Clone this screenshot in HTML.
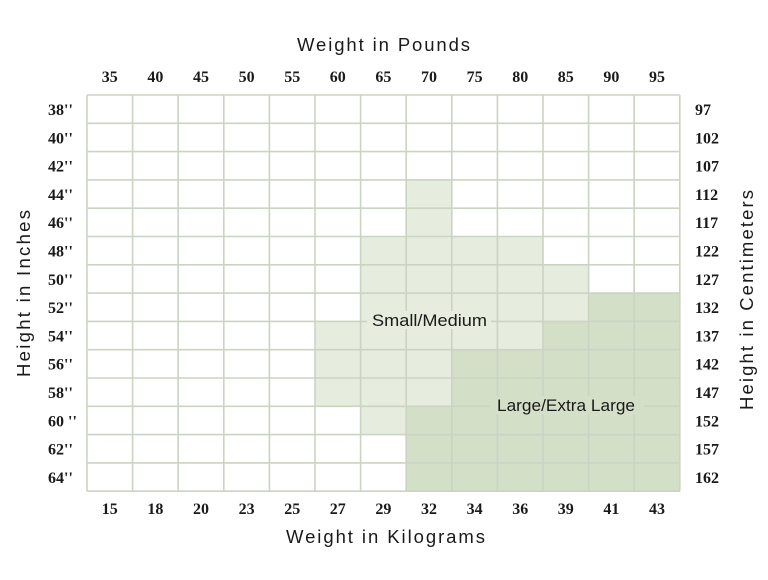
<!DOCTYPE html>
<html>
<head>
<meta charset="utf-8">
<style>
  html, body { margin:0; padding:0; background:#ffffff; }
  body { width:768px; height:580px; overflow:hidden; }
  svg { display:block; }
  .num { font-family:"Liberation Serif", serif; font-weight:bold; font-size:16px; fill:#1a1a1a; }
  .ttl { font-family:"Liberation Sans", sans-serif; font-size:18.5px; fill:#1a1a1a; }
  .lbl { font-family:"Liberation Sans", sans-serif; font-size:17px; fill:#1a1a1a; }
</style>
</head>
<body>
<svg width="768" height="580" viewBox="0 0 768 580" xmlns="http://www.w3.org/2000/svg">
  <rect x="0" y="0" width="768" height="580" fill="#ffffff"/>

  <!-- light fills (Small/Medium) -->
  <g fill="#e6ecde">
    <rect x="406.2" y="179.9" width="45.6" height="56.6"/>
    <rect x="360.6" y="236.5" width="182.4" height="84.9"/>
    <rect x="543" y="264.8" width="45.6" height="56.6"/>
    <rect x="315" y="321.4" width="228" height="28.3"/>
    <rect x="315" y="349.7" width="136.8" height="56.6"/>
    <rect x="360.6" y="406.3" width="45.6" height="28.3"/>
  </g>
  <!-- dark fills (Large/Extra Large) -->
  <g fill="#d4dfc8">
    <rect x="588.6" y="293.1" width="91.2" height="28.3"/>
    <rect x="543" y="321.4" width="136.8" height="28.3"/>
    <rect x="451.8" y="349.7" width="228" height="56.6"/>
    <rect x="406.2" y="406.3" width="273.6" height="84.9"/>
  </g>

  <!-- grid -->
  <g stroke="#cbd3c3" stroke-width="1.6" fill="none">
    <line x1="87" y1="95" x2="87" y2="491.2"/>
    <line x1="132.6" y1="95" x2="132.6" y2="491.2"/>
    <line x1="178.2" y1="95" x2="178.2" y2="491.2"/>
    <line x1="223.8" y1="95" x2="223.8" y2="491.2"/>
    <line x1="269.4" y1="95" x2="269.4" y2="491.2"/>
    <line x1="315" y1="95" x2="315" y2="491.2"/>
    <line x1="360.6" y1="95" x2="360.6" y2="491.2"/>
    <line x1="406.2" y1="95" x2="406.2" y2="491.2"/>
    <line x1="451.8" y1="95" x2="451.8" y2="491.2"/>
    <line x1="497.4" y1="95" x2="497.4" y2="491.2"/>
    <line x1="543" y1="95" x2="543" y2="491.2"/>
    <line x1="588.6" y1="95" x2="588.6" y2="491.2"/>
    <line x1="634.2" y1="95" x2="634.2" y2="491.2"/>
    <line x1="679.8" y1="95" x2="679.8" y2="491.2"/>

    <line x1="87" y1="95" x2="679.8" y2="95"/>
    <line x1="87" y1="123.3" x2="679.8" y2="123.3"/>
    <line x1="87" y1="151.6" x2="679.8" y2="151.6"/>
    <line x1="87" y1="179.9" x2="679.8" y2="179.9"/>
    <line x1="87" y1="208.2" x2="679.8" y2="208.2"/>
    <line x1="87" y1="236.5" x2="679.8" y2="236.5"/>
    <line x1="87" y1="264.8" x2="679.8" y2="264.8"/>
    <line x1="87" y1="293.1" x2="679.8" y2="293.1"/>
    <line x1="87" y1="321.4" x2="679.8" y2="321.4"/>
    <line x1="87" y1="349.7" x2="679.8" y2="349.7"/>
    <line x1="87" y1="378" x2="679.8" y2="378"/>
    <line x1="87" y1="406.3" x2="679.8" y2="406.3"/>
    <line x1="87" y1="434.6" x2="679.8" y2="434.6"/>
    <line x1="87" y1="462.9" x2="679.8" y2="462.9"/>
    <line x1="87" y1="491.2" x2="679.8" y2="491.2"/>
  </g>

  <!-- label backgrounds that hide grid lines -->
  <rect x="367" y="311" width="124" height="18" fill="#e6ecde"/>
  <rect x="490" y="396" width="154" height="18" fill="#d4dfc8"/>

  <!-- region labels -->
  <text class="lbl" x="372" y="326" textLength="115" lengthAdjust="spacingAndGlyphs">Small/Medium</text>
  <text class="lbl" x="497" y="411" textLength="138" lengthAdjust="spacingAndGlyphs">Large/Extra Large</text>

  <!-- axis titles -->
  <text class="ttl" x="297" y="51" textLength="173" lengthAdjust="spacing">Weight in Pounds</text>
  <text class="ttl" x="286" y="543" textLength="199" lengthAdjust="spacing">Weight in Kilograms</text>
  <text class="ttl" transform="translate(30,377) rotate(-90)" x="0" y="0" textLength="167" lengthAdjust="spacing">Height in Inches</text>
  <text class="ttl" transform="translate(753,410) rotate(-90)" x="0" y="0" textLength="220" lengthAdjust="spacing">Height in Centimeters</text>

  <!-- top numbers (pounds) -->
  <g class="num" text-anchor="middle">
    <text x="109.8" y="82">35</text>
    <text x="155.4" y="82">40</text>
    <text x="201" y="82">45</text>
    <text x="246.6" y="82">50</text>
    <text x="292.2" y="82">55</text>
    <text x="337.8" y="82">60</text>
    <text x="383.4" y="82">65</text>
    <text x="429" y="82">70</text>
    <text x="474.6" y="82">75</text>
    <text x="520.2" y="82">80</text>
    <text x="565.8" y="82">85</text>
    <text x="611.4" y="82">90</text>
    <text x="657" y="82">95</text>
  </g>

  <!-- bottom numbers (kilograms) -->
  <g class="num" text-anchor="middle">
    <text x="109.8" y="514">15</text>
    <text x="155.4" y="514">18</text>
    <text x="201" y="514">20</text>
    <text x="246.6" y="514">23</text>
    <text x="292.2" y="514">25</text>
    <text x="337.8" y="514">27</text>
    <text x="383.4" y="514">29</text>
    <text x="429" y="514">32</text>
    <text x="474.6" y="514">34</text>
    <text x="520.2" y="514">36</text>
    <text x="565.8" y="514">39</text>
    <text x="611.4" y="514">41</text>
    <text x="657" y="514">43</text>
  </g>

  <!-- left labels (inches) -->
  <g class="num">
    <text x="48" y="115">38''</text>
    <text x="48" y="143.3">40''</text>
    <text x="48" y="171.6">42''</text>
    <text x="48" y="199.9">44''</text>
    <text x="48" y="228.2">46''</text>
    <text x="48" y="256.5">48''</text>
    <text x="48" y="284.8">50''</text>
    <text x="48" y="313.1">52''</text>
    <text x="48" y="341.4">54''</text>
    <text x="48" y="369.7">56''</text>
    <text x="48" y="398">58''</text>
    <text x="48" y="426.3">60 ''</text>
    <text x="48" y="454.6">62''</text>
    <text x="48" y="482.9">64''</text>
  </g>

  <!-- right labels (cm) -->
  <g class="num">
    <text x="695" y="115">97</text>
    <text x="695" y="143.3">102</text>
    <text x="695" y="171.6">107</text>
    <text x="695" y="199.9">112</text>
    <text x="695" y="228.2">117</text>
    <text x="695" y="256.5">122</text>
    <text x="695" y="284.8">127</text>
    <text x="695" y="313.1">132</text>
    <text x="695" y="341.4">137</text>
    <text x="695" y="369.7">142</text>
    <text x="695" y="398">147</text>
    <text x="695" y="426.3">152</text>
    <text x="695" y="454.6">157</text>
    <text x="695" y="482.9">162</text>
  </g>
</svg>
</body>
</html>
